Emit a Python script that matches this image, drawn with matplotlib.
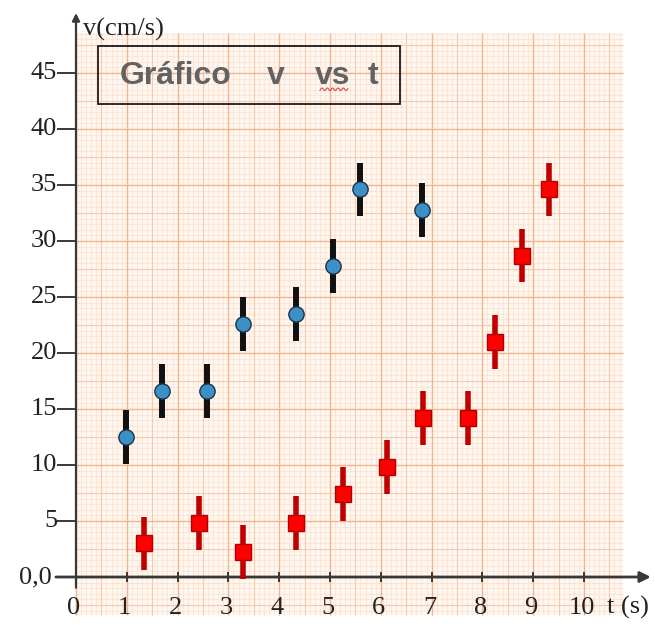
import numpy as np
import matplotlib
matplotlib.use("Agg")
import matplotlib.pyplot as plt
from matplotlib.collections import LineCollection
from matplotlib.patches import Rectangle

# data
t_blue = [0.98, 1.70, 2.57, 3.29, 4.34, 5.05, 5.59, 6.82]
v_blue = [12.5, 16.6, 16.6, 22.6, 23.5, 27.8, 34.6, 32.8]
err_blue = [2.4] * len(t_blue)

t_red = [1.34, 2.43, 3.29, 4.34, 5.25, 6.13, 6.84, 7.72, 8.25, 8.77, 9.32]
v_red = [3.0, 4.8, 2.2, 4.8, 7.4, 9.85, 14.2, 14.2, 20.95, 28.7, 34.6]
err_red = [2.4] * len(t_red)

x_ticks = [0, 1, 2, 3, 4, 5, 6, 7, 8, 9, 10]
y_ticks = [5, 10, 15, 20, 25, 30, 35, 40, 45]

W, H = 654, 625
fig = plt.figure(figsize=(W / 100, H / 100), dpi=100)
ax = fig.add_axes([0, 0, 1, 1])
# pixel -> data: t = (px-76)/50.8 ; v = (577-py)/11.2
ax.set_xlim(-76 / 50.8, (W - 76) / 50.8)
ax.set_ylim((577 - H) / 11.2, 577 / 11.2)
ax.axis("off")

# graph paper
gx0, gx1 = -0.02, 10.77
gy0, gy1 = -3.4, 48.6
ax.add_patch(Rectangle((gx0, gy0), gx1 - gx0, gy1 - gy0, facecolor="#fef6ef",
                       edgecolor="none", zorder=0))
fine, mid, major = [], [], []
for i in range(int(np.ceil(gx0 * 10)), int(gx1 * 10) + 1):
    x = i / 10
    seg = [(x, gy0), (x, gy1)]
    (major if i % 10 == 0 else mid if i % 5 == 0 else fine).append(seg)
for j in range(int(np.ceil(gy0 * 2)), int(gy1 * 2) + 1):
    y = j / 2
    seg = [(gx0, y), (gx1, y)]
    (major if j % 10 == 0 else mid if j % 5 == 0 else fine).append(seg)
ax.add_collection(LineCollection(fine, colors="#fbe1cf", linewidths=0.5, zorder=1))
ax.add_collection(LineCollection(mid, colors="#f6cbae", linewidths=0.8, zorder=1))
ax.add_collection(LineCollection(major, colors="#f2b590", linewidths=1.0, zorder=1))

# axes with arrows
axc = "#383838"
ax.annotate("", xy=(0, 50.6), xytext=(0, -1.2),
            arrowprops=dict(arrowstyle="-|>", color=axc, lw=1.6, mutation_scale=11),
            zorder=3)
ax.annotate("", xy=(11.37, 0), xytext=(-0.45, 0),
            arrowprops=dict(arrowstyle="-|>", color=axc, lw=2.0, mutation_scale=16),
            zorder=3)

serif = "Liberation Serif"
for y in y_ticks:
    ax.plot([-0.36, 0], [y, y], color=axc, lw=1.4, zorder=3)
    ax.text(-0.37, y, str(y), ha="right", va="center", fontsize=19,
            family=serif, color="#222222")
ax.text(-0.47, 0, "0,0", ha="right", va="center", fontsize=19, family=serif,
        color="#222222")
for x in x_ticks:
    if x > 0:
        ax.plot([x, x], [-0.4, 0.4], color=axc, lw=1.4, zorder=3)
    ax.text(x - 0.04, -2.8, str(x), ha="center", va="center", fontsize=19,
            family=serif, color="#222222")
ax.text(0.14, 48.9, "v(cm/s)", ha="left", va="center", fontsize=19,
        family=serif, color="#222222")
ax.text(10.45, -2.75, "t (s)", ha="left", va="center", fontsize=19,
        family=serif, color="#222222")

# title box
ax.add_patch(Rectangle((0.43, 42.2), 5.95, 5.2, facecolor="none",
                       edgecolor="#1a1a1a", lw=1.3, zorder=4))
tc = "#626262"
ax.text(0.87, 44.7, "Gráfico", ha="left", va="center", fontsize=23,
        family="Liberation Sans", weight="bold", color=tc, zorder=5)
ax.text(3.94, 44.7, "v", ha="center", va="center", fontsize=23,
        family="Liberation Sans", weight="bold", color=tc, zorder=5)
ax.text(5.06, 44.7, "vs", ha="center", va="center", fontsize=23,
        family="Liberation Sans", weight="bold", color=tc, zorder=5)
ax.text(5.85, 44.7, "t", ha="center", va="center", fontsize=23,
        family="Liberation Sans", weight="bold", color=tc, zorder=5)
sq = np.linspace(4.8, 5.35, 40)
ax.plot(sq, 43.55 + 0.12 * np.sin(sq * 60), color="#e03030", lw=0.7, zorder=5)

# data
ax.errorbar(t_blue, v_blue, yerr=err_blue, fmt="none", ecolor="#111111",
            elinewidth=4.3, capsize=0, zorder=6)
ax.plot(t_blue, v_blue, "o", ms=11, mfc="#3d8fc7", mec="#1c3448", mew=1.0,
        ls="none", zorder=7)
ax.errorbar(t_red, v_red, yerr=err_red, fmt="none", ecolor="#c00000",
            elinewidth=4.0, capsize=0, zorder=6)
ax.plot(t_red, v_red, "s", ms=11, mfc="#ff0000", mec="#b00000", mew=1.0,
        ls="none", zorder=7)

fig.savefig("out.png", dpi=100, facecolor="white")
